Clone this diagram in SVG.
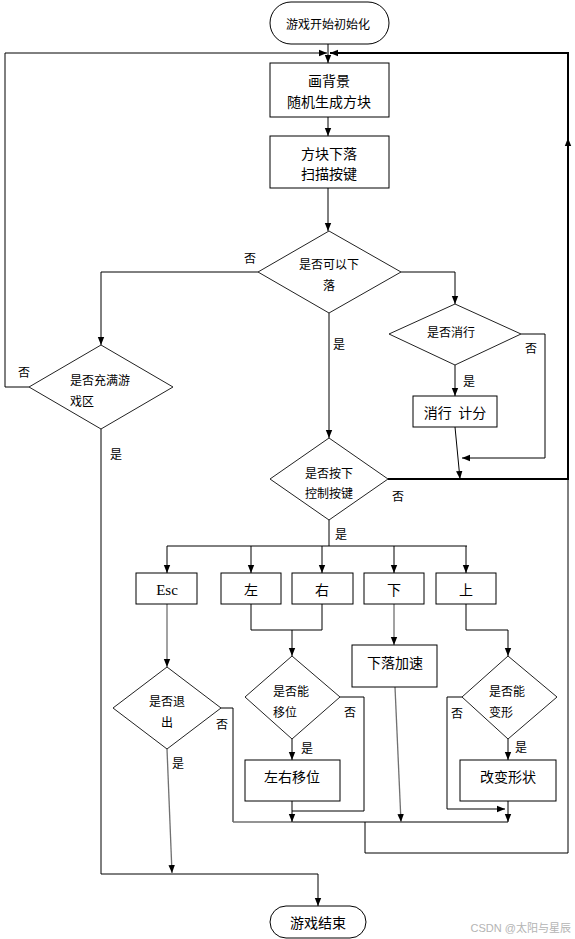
<svg xmlns="http://www.w3.org/2000/svg" width="575" height="939" viewBox="0 0 575 939">
<defs>
<marker id="arr" viewBox="0 0 10 10" refX="10" refY="5" markerWidth="8" markerHeight="8" markerUnits="userSpaceOnUse" orient="auto">
<path d="M0,1 L10,5 L0,9 z" fill="#000"/>
</marker>
</defs>
<style>
.n{fill:#fff;stroke:#000;stroke-width:1}
.d{fill:#fff;stroke:#222;stroke-width:1}
.t{font-family:"Noto Sans CJK SC","Noto Sans CJK JP",sans-serif;fill:#000;dominant-baseline:central;text-anchor:middle}
.s12{font-size:12px}
.s14{font-size:14px}
.l{text-anchor:start}
.c{fill:none;stroke:#000;stroke-width:1}
.g{stroke:#707070;stroke-width:1.3}
.a{marker-end:url(#arr)}
.lab{font-family:"Noto Sans CJK SC",sans-serif;font-size:12px;fill:#000;dominant-baseline:central;text-anchor:middle}
.wm{font-family:"Liberation Sans","Noto Sans CJK SC",sans-serif;font-size:11px;fill:#b4b4b4;text-anchor:end}
</style>
<rect width="575" height="939" fill="#fff"/>
<g id="connectors">
<path class="c a" d="M328,44 V63"/>
<path class="c a" d="M328,117 V136"/>
<path class="c a" d="M328,188 V231"/>
<path class="c a" d="M258,272 H101 V345"/>
<path class="c a" d="M401,272 H455 V304"/>
<path class="c a" d="M329,313 V438"/>
<path class="c a" d="M29,387 H5 V53 H327"/>
<path class="c a" d="M521,334 H545 V458 H462"/>
<path class="c a" d="M455,365 V396"/>
<path class="c a" d="M455,427 L460,479"/>
<path class="c a" style="stroke-width:2" d="M388,479 H568 V138"/>
<path class="c a" style="stroke-width:2" d="M568,140 V53 H330"/>
<path class="c" d="M365,822 V853 H568 V479"/>
<path class="c" d="M329,520 V546 M167,546 H467"/>
<path class="c a" d="M167,546 V573"/>
<path class="c a" d="M251,546 V573"/>
<path class="c a" d="M322,546 V573"/>
<path class="c a" d="M394,546 V573"/>
<path class="c a" d="M466,546 V573"/>
<path class="c g a" d="M167,604 V667"/>
<path class="c" d="M251,604 V630 H322 V604"/>
<path class="c a" d="M292,630 V656"/>
<path class="c g a" d="M394,604 V645"/>
<path class="c a" d="M466,604 V630 H508 V656"/>
<path class="c" d="M221,708 H233 V822"/>
<path class="c g" d="M233,822 H293"/>
<path class="c" d="M293,822 H508"/>
<path class="c g a" d="M167,749 L172,873"/>
<path class="c a" d="M101,429 V874 H318 V906"/>
<path class="c a" d="M292,739 V760"/>
<path class="c a" d="M292,801 V822"/>
<path class="c" d="M340,697 H364 V811 H292"/>
<path class="c g a" d="M395,687 L401,822"/>
<path class="c a" d="M462,697 H447 V809 H505"/>
<path class="c a" d="M508,739 V760"/>
<path class="c a" d="M508,801 V822"/>
</g>
<g id="start">
<rect class="n" x="270" y="2" width="119" height="42" rx="21" ry="21"/>
<text class="t s12" x="328" y="23">游戏开始初始化</text>
</g>
<g id="box1">
<rect class="n" x="270" y="63" width="119" height="54"/>
<text class="t s14" x="329" y="80">画背景</text>
<text class="t s14" x="329" y="101">随机生成方块</text>
</g>
<g id="box2">
<rect class="n" x="270" y="136" width="119" height="52"/>
<text class="t s14" x="329" y="153">方块下落</text>
<text class="t s14" x="329" y="173">扫描按键</text>
</g>
<g id="dec-fall">
<polygon class="d" points="329,231 401,272 329,313 258,272"/>
<text class="t s12" x="329" y="263">是否可以下</text>
<text class="t s12" x="329" y="284">落</text>
</g>
<g id="dec-full">
<polygon class="d" points="101,345 173,387 101,429 29,387"/>
<text class="t s12 l" x="70" y="379">是否充满游</text>
<text class="t s12 l" x="70" y="400">戏区</text>
</g>
<g id="dec-clear">
<polygon class="d" points="455,304 521,334 455,365 389,334"/>
<text class="t s12" x="451" y="331">是否消行</text>
</g>
<g id="box-clear">
<rect class="n" x="413" y="396" width="84" height="31"/>
<text class="t s14" x="455" y="412" xml:space="preserve">消行  计分</text>
</g>
<g id="dec-key">
<polygon class="d" points="329,438 388,479 329,520 270,479"/>
<text class="t s12" x="329" y="472">是否按下</text>
<text class="t s12" x="329" y="492">控制按键</text>
</g>
<g id="key-esc">
<rect class="n" x="136" y="573" width="61" height="31"/>
<text class="t" style="font-family:'Liberation Serif',serif;font-size:15px" x="167" y="590">Esc</text>
</g>
<g id="key-left">
<rect class="n" x="221" y="573" width="60" height="31"/>
<text class="t s14" x="251" y="589">左</text>
</g>
<g id="key-right">
<rect class="n" x="292" y="573" width="61" height="31"/>
<text class="t s14" x="322" y="589">右</text>
</g>
<g id="key-down">
<rect class="n" x="364" y="573" width="60" height="31"/>
<text class="t s14" x="394" y="589">下</text>
</g>
<g id="key-up">
<rect class="n" x="436" y="573" width="60" height="31"/>
<text class="t s14" x="466" y="589">上</text>
</g>
<g id="dec-exit">
<polygon class="d" points="167,667 221,708 167,749 113,708"/>
<text class="t s12" x="167" y="700">是否退</text>
<text class="t s12" x="167" y="721">出</text>
</g>
<g id="dec-move">
<polygon class="d" points="292,656 340,697 292,739 245,697"/>
<text class="t s12 l" x="273" y="690">是否能</text>
<text class="t s12 l" x="273" y="711">移位</text>
</g>
<g id="box-move">
<rect class="n" x="245" y="760" width="95" height="41"/>
<text class="t s14" x="292" y="776">左右移位</text>
</g>
<g id="box-speed">
<rect class="n" x="352" y="645" width="85" height="42"/>
<text class="t s14" x="395" y="662">下落加速</text>
</g>
<g id="dec-rotate">
<polygon class="d" points="508,656 557,697 508,739 462,697"/>
<text class="t s12 l" x="489" y="690">是否能</text>
<text class="t s12 l" x="489" y="711">变形</text>
</g>
<g id="box-rotate">
<rect class="n" x="460" y="760" width="96" height="41"/>
<text class="t s14" x="508" y="776">改变形状</text>
</g>
<g id="end">
<rect class="n" x="270" y="906" width="96" height="32" rx="16" ry="16"/>
<text class="t s14" x="318" y="922">游戏结束</text>
</g>
<g id="labels">
<text class="lab" x="250" y="257">否</text>
<text class="lab" x="24" y="371">否</text>
<text class="lab" x="531" y="347">否</text>
<text class="lab" x="398" y="495">否</text>
<text class="lab" x="222" y="723">否</text>
<text class="lab" x="350" y="711">否</text>
<text class="lab" x="457" y="712">否</text>
<text class="lab" x="339" y="343">是</text>
<text class="lab" x="116" y="453">是</text>
<text class="lab" x="469" y="380">是</text>
<text class="lab" x="341" y="533">是</text>
<text class="lab" x="178" y="762">是</text>
<text class="lab" x="307" y="747">是</text>
<text class="lab" x="521" y="746">是</text>
</g>
<text class="wm" x="571" y="932">CSDN @太阳与星辰</text>
</svg>
